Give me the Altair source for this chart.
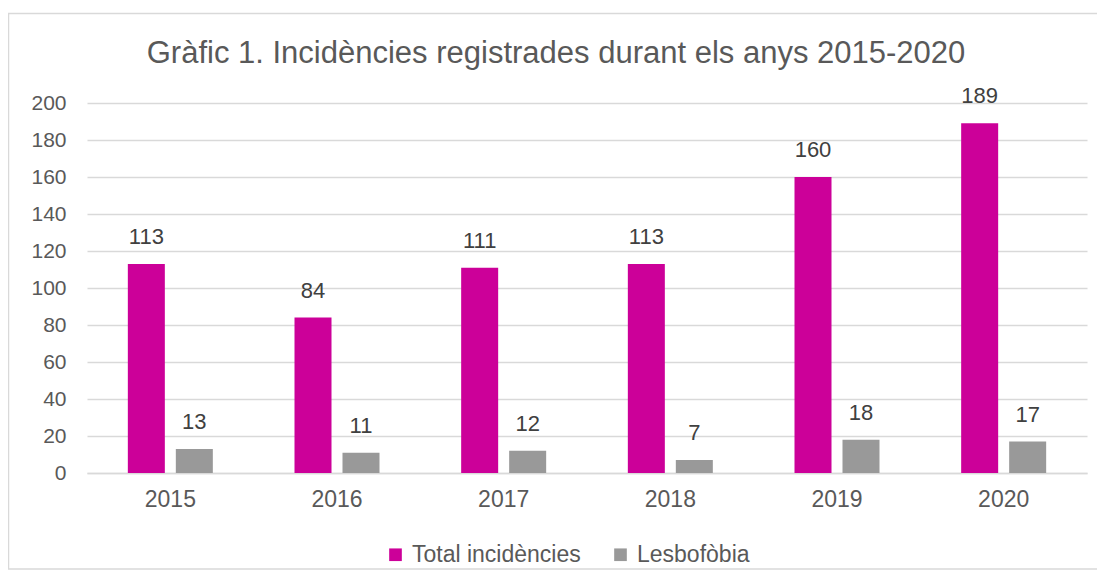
import altair as alt
import pandas as pd

years = ["2015", "2016", "2017", "2018", "2019", "2020"]
total = [113, 84, 111, 113, 160, 189]
lesbo = [13, 11, 12, 7, 18, 17]
series = ["Total incidències", "Lesbofòbia"]
colors = ["#CC0099", "#999999"]
y_ticks = list(range(0, 201, 20))
title_text = "Gràfic 1. Incidències registrades durant els anys 2015-2020"

rows = []
for i, y in enumerate(years):
    rows.append({"year": y, "serie": series[0], "value": total[i]})
    rows.append({"year": y, "serie": series[1], "value": lesbo[i]})
df = pd.DataFrame(rows)

FONT = "Liberation Sans"

x = alt.X("year:N", sort=years, title=None,
          scale=alt.Scale(paddingInner=0.49, paddingOuter=0.245),
          axis=alt.Axis(labelAngle=0, labelFontSize=23, labelColor="#595959",
                        labelFont=FONT, ticks=False, domainColor="#d9d9d9",
                        domainWidth=1.3, labelPadding=15, grid=False))
xo = alt.XOffset("serie:N", sort=series,
                 scale=alt.Scale(paddingInner=0.229, paddingOuter=0))
y = alt.Y("value:Q", title=None,
          scale=alt.Scale(domain=[0, 200], nice=False),
          axis=alt.Axis(values=y_ticks, labelFontSize=21, labelColor="#595959",
                        labelFont=FONT, ticks=False, domain=False,
                        gridColor="#d9d9d9", gridWidth=1.3, labelPadding=21))
color = alt.Color("serie:N", sort=series,
                  scale=alt.Scale(domain=series, range=colors),
                  legend=alt.Legend(title=None, orient="none", direction="horizontal",
                                    legendX=297, legendY=440, symbolType="square",
                                    symbolSize=160, symbolStrokeWidth=0,
                                    labelFontSize=23, labelColor="#595959",
                                    labelFont=FONT, columnPadding=28, labelLimit=400,
                                    labelOffset=5, symbolOpacity=1))

base = alt.Chart(df)
bars = base.mark_bar().encode(x=x, xOffset=xo, y=y, color=color)
labels = base.mark_text(baseline="alphabetic", dy=-20, fontSize=22, color="#404040",
                        font=FONT).encode(x=x, xOffset=xo, y=y, text="value:Q")

one = pd.DataFrame({"t": [title_text]})
border = alt.Chart(one).mark_rect(
    fill=None, stroke="#d9d9d9", strokeWidth=1.5).encode(
    x=alt.value(-78.5), x2=alt.value(1040), y=alt.value(-89.5), y2=alt.value(466))
title = alt.Chart(one).mark_text(
    fontSize=31, font=FONT, color="#595959", baseline="alphabetic", align="center").encode(
    x=alt.value(469), y=alt.value(-40), text="t:N")

chart = alt.layer(border, title, bars, labels).properties(
    width=1000, height=370,
    autosize=alt.AutoSizeParams(type="none"),
    padding={"left": 79, "top": 95, "right": 10, "bottom": 100},
).configure_view(stroke=None)

chart.save("out.html", embed_options={"renderer": "svg", "actions": False})
